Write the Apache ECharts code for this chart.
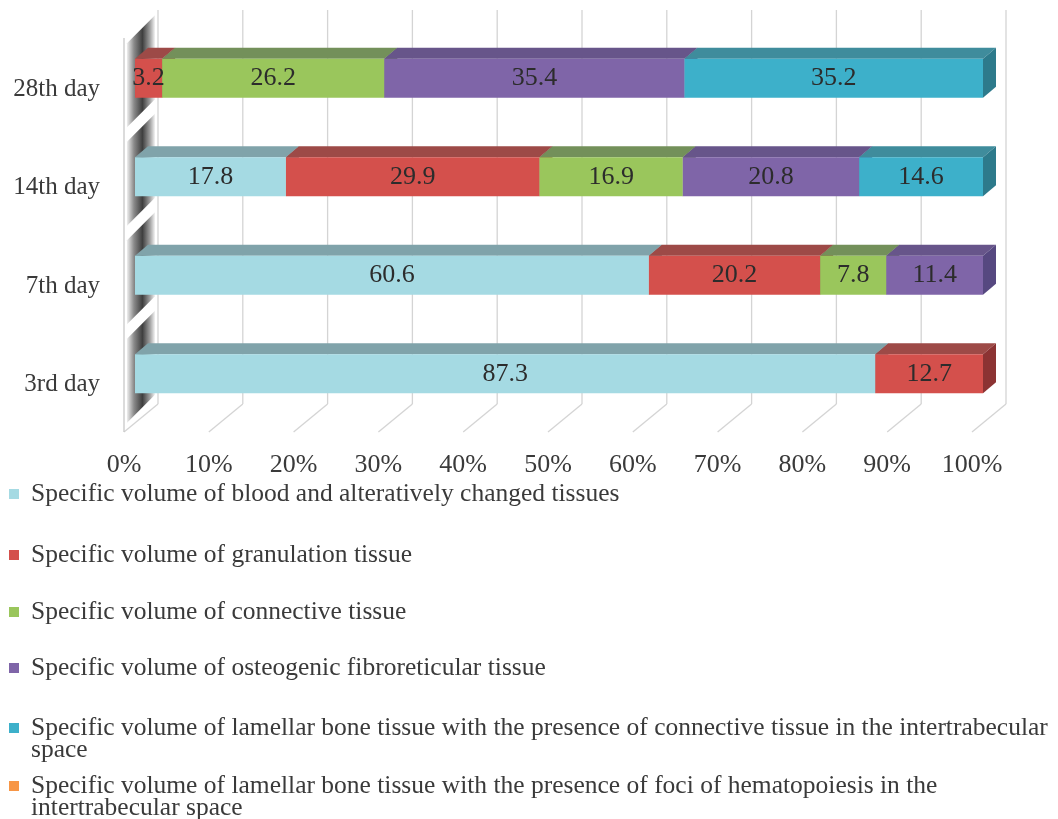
<!DOCTYPE html>
<html>
<head>
<meta charset="utf-8">
<script src="https://cdn.jsdelivr.net/npm/echarts@6/dist/echarts.min.js"></script>
<style>
  html, body { margin: 0; padding: 0; background: #ffffff; }
  #chart { width: 1058px; height: 819px; }
</style>
</head>
<body>
<div id="chart"></div>
<script>
// Time points (bottom to top) and the share of each tissue type, %
const categories = ['3rd day', '7th day', '14th day', '28th day'];

const seriesNames = [
  'Specific volume of blood and alteratively changed tissues',
  'Specific volume of granulation tissue',
  'Specific volume of connective tissue',
  'Specific volume of osteogenic fibroreticular tissue',
  'Specific volume of lamellar bone tissue with the presence of connective tissue in the intertrabecular space',
  'Specific volume of lamellar bone tissue with the presence of foci of hematopoiesis in the intertrabecular space'
];

const bloodValues = [87.3, 60.6, 17.8, 0];
const granulationValues = [12.7, 20.2, 29.9, 3.2];
const connectiveValues = [0, 7.8, 16.9, 26.2];
const osteogenicValues = [0, 11.4, 20.8, 35.4];
const lamellarConnectiveValues = [0, 0, 14.6, 35.2];
const lamellarHematopoiesisValues = [0, 0, 0, 0];

const xTicks = [0, 10, 20, 30, 40, 50, 60, 70, 80, 90, 100];

// Legend entries that wrap onto a second line
const legendLines = [
  [seriesNames[0]],
  [seriesNames[1]],
  [seriesNames[2]],
  [seriesNames[3]],
  ['Specific volume of lamellar bone tissue with the presence of connective tissue in the intertrabecular', 'space'],
  ['Specific volume of lamellar bone tissue with the presence of foci of hematopoiesis in the', 'intertrabecular space']
];

const allValues = [bloodValues, granulationValues, connectiveValues, osteogenicValues,
                   lamellarConnectiveValues, lamellarHematopoiesisValues];

// Face colours: front, top and right side of each 3D bar segment
const frontColors = ['#A5DAE3', '#D4504C', '#9AC65C', '#7F65A8', '#3DB0CA', '#F79646'];
const topColors   = ['#80A3AA', '#9D4A47', '#73905A', '#67558A', '#3F8C9C', '#B8733A'];
const sideColors  = ['#6E9299', '#8C3333', '#5E7C45', '#564880', '#2D7A8B', '#A8642E'];

// Perspective geometry (pixels)
const BAR_W = 39;            // bar front-face thickness
const DX = 13, DY = 11;      // bar depth
const BACK_X = 23, BACK_Y = 19;   // front plane -> back wall
const FRONT_X = 11, FRONT_Y = 9;  // front plane -> front floor edge
const FONT = '"Liberation Serif", "Times New Roman", serif';
const TEXT_COLOR = '#3a3a3a';
const LEGEND_FONT = 25.5;

// Stacked segments for the top/side faces
const faceData = [];
categories.forEach((c, ci) => {
  let start = 0;
  allValues.forEach((vals, si) => {
    const v = vals[ci];
    if (v > 0) {
      faceData.push([ci, start, start + v, si]);
      start += v;
    }
  });
});

const chart = echarts.init(document.getElementById('chart'), null, { renderer: 'canvas' });

const barSeries = allValues.map((vals, si) => ({
  name: seriesNames[si],
  type: 'bar',
  stack: 'share',
  barWidth: BAR_W,
  data: vals,
  z: 4,
  itemStyle: { color: frontColors[si] },
  emphasis: { disabled: true },
  label: {
    show: true,
    position: 'inside',
    fontFamily: FONT,
    fontSize: 26,
    color: '#2c2c2c',
    formatter: p => (p.value > 0 ? p.value.toFixed(1) : '')
  }
}));

const facesSeries = {
  type: 'custom',
  z: 3,
  silent: true,
  data: faceData,
  encode: { x: [1, 2], y: 0 },
  renderItem: (params, api) => {
    const ci = api.value(0), s = api.value(1), e = api.value(2), k = api.value(3);
    const a = api.coord([s, ci]);
    const b = api.coord([e, ci]);
    const top = a[1] - BAR_W / 2;
    const bottom = a[1] + BAR_W / 2;
    return {
      type: 'group',
      children: [
        {
          type: 'polygon',
          shape: { points: [[a[0], top], [a[0] + DX, top - DY], [b[0] + DX, top - DY], [b[0], top]] },
          style: { fill: topColors[k] }
        },
        {
          type: 'polygon',
          shape: { points: [[b[0], top], [b[0] + DX, top - DY], [b[0] + DX, bottom - DY], [b[0], bottom]] },
          style: { fill: sideColors[k] }
        }
      ]
    };
  }
};

// Back-wall gridlines and the floor diagonals
const wallSeries = {
  type: 'custom',
  z: 1,
  silent: true,
  data: xTicks.map(v => [v]),
  encode: { x: 0 },
  renderItem: (params, api) => {
    const cs = params.coordSys;
    const x = api.coord([api.value(0), 0])[0];
    const yTop = cs.y - BACK_Y;
    const yBack = cs.y + cs.height - BACK_Y;
    const yFront = cs.y + cs.height + FRONT_Y;
    const lineStyle = { stroke: '#d4d4d4', lineWidth: 1.3, fill: null };
    const children = [
      { type: 'line', shape: { x1: x + BACK_X, y1: yTop, x2: x + BACK_X, y2: yBack }, style: lineStyle },
      { type: 'line', shape: { x1: x + BACK_X, y1: yBack, x2: x - FRONT_X, y2: yFront }, style: lineStyle }
    ];
    if (api.value(0) === 0) {
      children.push({
        type: 'line',
        shape: { x1: x - FRONT_X, y1: cs.y + FRONT_Y, x2: x - FRONT_X, y2: yFront },
        style: { stroke: '#c8c8c8', lineWidth: 1.3, fill: null }
      });
    }
    return { type: 'group', children };
  }
};

// Shaded side wall beside each category
const sideWallSeries = {
  type: 'custom',
  z: 2,
  silent: true,
  data: categories.map((c, i) => [0, i]),
  encode: { x: 0, y: 1 },
  renderItem: (params, api) => {
    const p = api.coord([0, api.value(1)]);
    const xf = p[0] - FRONT_X + 3;
    const xb = p[0] + BACK_X - 3;
    const y1 = p[1] - 44;
    const y2 = p[1] + 40;
    return {
      type: 'polygon',
      shape: { points: [[xf, y1 + FRONT_Y], [xb, y1 - BACK_Y], [xb, y2 - BACK_Y], [xf, y2 + FRONT_Y]] },
      style: {
        fill: new echarts.graphic.LinearGradient(0, 0, 1, 0, [
          { offset: 0, color: '#eeeeee' },
          { offset: 0.25, color: '#8a8a8a' },
          { offset: 0.55, color: '#3e3e3e' },
          { offset: 0.82, color: '#a0a0a0' },
          { offset: 1, color: '#f4f4f4' }
        ])
      }
    };
  }
};

// One legend block per entry, stacked down the page
const legendCenters = [494, 555, 612, 668, 728, 786];
const legends = seriesNames.map((name, i) => ({
  data: [name],
  orient: 'vertical',
  left: 9,
  top: legendCenters[i] - 13,
  padding: 0,
  icon: 'rect',
  itemWidth: 10,
  itemHeight: 10,
  selectedMode: false,
  formatter: () => legendLines[i][0],
  textStyle: {
    fontFamily: FONT,
    fontSize: LEGEND_FONT,
    lineHeight: 26,
    color: TEXT_COLOR,
    padding: [0, 0, 0, 7]
  }
}));

const secondLines = [];
legendLines.forEach((lines, i) => {
  if (lines.length > 1) {
    secondLines.push({
      type: 'text',
      left: 31,
      top: legendCenters[i] + 22 - 13,
      style: { text: lines[1], font: LEGEND_FONT + 'px ' + FONT, fill: TEXT_COLOR }
    });
  }
});

chart.setOption({
  backgroundColor: '#ffffff',
  animation: false,
  grid: { left: 135, right: 75, top: 29, bottom: 396, containLabel: false },
  xAxis: {
    type: 'value',
    min: 0,
    max: 100,
    interval: 10,
    axisLine: { show: false },
    axisTick: { show: false },
    splitLine: { show: false },
    axisLabel: {
      formatter: '{value}%',
      fontFamily: FONT,
      fontSize: 26,
      color: TEXT_COLOR,
      margin: 29,
      padding: [0, 2 * FRONT_X, 0, 0]
    }
  },
  yAxis: {
    type: 'category',
    data: categories,
    axisLine: { show: false },
    axisTick: { show: false },
    splitLine: { show: false },
    axisLabel: {
      fontFamily: FONT,
      fontSize: 25,
      lineHeight: 22,
      verticalAlign: 'top',
      color: TEXT_COLOR,
      margin: 35
    }
  },
  legend: legends,
  graphic: secondLines,
  series: [wallSeries, sideWallSeries, facesSeries].concat(barSeries)
});
</script>
</body>
</html>
